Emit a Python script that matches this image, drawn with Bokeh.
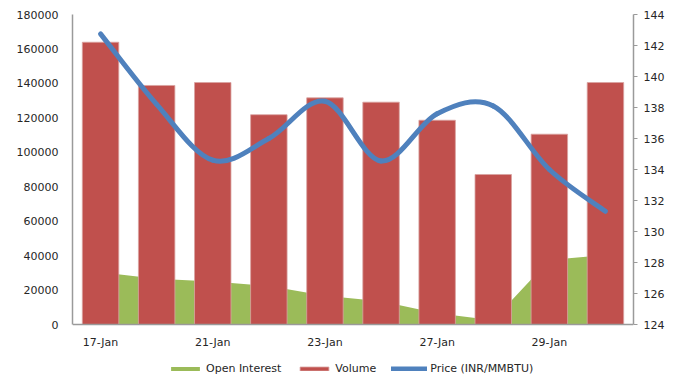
from bokeh.plotting import figure
from bokeh.models import (Range1d, LinearAxis, FixedTicker, Legend, LegendItem,
                          BasicTickFormatter, Span)
from bokeh.core.properties import value
from bokeh.embed import file_html
from bokeh.resources import INLINE

# Trading days, volume (lots), open interest (lots) and price (INR/MMBTU)
dates = ["17-Jan", "20-Jan", "21-Jan", "22-Jan", "23-Jan",
         "24-Jan", "27-Jan", "28-Jan", "29-Jan", "30-Jan"]
volume = [163900, 138800, 140500, 121800, 131600,
          129100, 118600, 87100, 110500, 140500]
open_interest = [30400, 26500, 25000, 22300, 16700,
                 13500, 6600, 2500, 37500, 40300]
price = [142.75, 138.2, 134.6, 136.0, 138.4,
         134.55, 137.6, 138.1, 134.0, 131.3]

left_ticks = list(range(0, 180001, 20000))
right_ticks = list(range(124, 145, 2))

FONT = "DejaVu Sans"
TEXT = "#262626"
AXIS = "#9a9a9a"
GREEN = "#9BBB59"
RED = "#C0504D"
BLUE = "#4F81BD"

# plot area geometry: value axes span 310 px, with a 54 px strip below
# the zero line that holds the date labels and the legend
AXIS_PX, STRIP_PX = 310, 54
vol_lo, vol_hi = left_ticks[0], left_ticks[-1]
pr_lo, pr_hi = right_ticks[0], right_ticks[-1]
vol_start = vol_lo - STRIP_PX * (vol_hi - vol_lo) / AXIS_PX
pr_start = pr_lo - STRIP_PX * (pr_hi - pr_lo) / AXIS_PX

pos = list(range(1, len(dates) + 1))

p = figure(frame_width=561, frame_height=AXIS_PX + STRIP_PX,
           output_backend="svg", toolbar_location=None, x_axis_location=None,
           x_range=Range1d(0.5, len(dates) + 0.5),
           y_range=Range1d(vol_start, vol_hi),
           min_border_left=72, min_border_right=44, min_border_top=14,
           min_border_bottom=0)
p.extra_y_ranges = {"price": Range1d(pr_start, pr_hi)}
p.outline_line_color = None
p.xgrid.visible = False
p.ygrid.visible = False
p.background_fill_color = "white"

# open interest area behind the columns
oi = p.varea(x=pos, y1=0, y2=open_interest, fill_color=GREEN)

# volume columns
vol = p.vbar(x=pos, top=volume, width=0.65, fill_color=RED,
             line_color="#d9a3a1", line_width=0.8)

# smoothed price curve (cubic Bezier segments through each day's price)
n = len(price)
x0s, y0s, x1s, y1s, cx0s, cy0s, cx1s, cy1s = ([] for _ in range(8))
for i in range(n - 1):
    xa, ya = pos[i], price[i]
    xb, yb = pos[i + 1], price[i + 1]
    xp, yp = (pos[i - 1], price[i - 1]) if i > 0 else (xa, ya)
    xn, yn = (pos[i + 2], price[i + 2]) if i + 2 < n else (xb, yb)
    x0s.append(xa); y0s.append(ya); x1s.append(xb); y1s.append(yb)
    cx0s.append(xa + (xb - xp) / 6); cy0s.append(ya + (yb - yp) / 6)
    cx1s.append(xb - (xn - xa) / 6); cy1s.append(yb - (yn - ya) / 6)
pr = p.bezier(x0=x0s, y0=y0s, x1=x1s, y1=y1s, cx0=cx0s, cy0=cy0s,
              cx1=cx1s, cy1=cy1s, line_color=BLUE, line_width=5,
              line_cap="round", y_range_name="price")

# category axis: base line at zero and every other date underneath
p.add_layout(Span(location=0, dimension="width", line_color=AXIS, line_width=1.5))
p.text(x=pos[::2], y=[0] * len(pos[::2]), text=dates[::2],
       text_font=value(FONT), text_font_size="11px", text_color=TEXT,
       text_align="center", text_baseline="top", y_offset=11)

# volume axis (left)
ya_ = p.yaxis[0]
ya_.bounds = (vol_lo, vol_hi)
ya_.ticker = FixedTicker(ticks=left_ticks)
ya_.formatter = BasicTickFormatter(use_scientific=False)
ya_.major_tick_line_color = None
ya_.major_tick_out = 0
ya_.minor_tick_line_color = None
ya_.minor_tick_out = 0
ya_.axis_line_color = AXIS
ya_.axis_line_width = 1.5
ya_.major_label_standoff = 14

# price axis (right)
ra = LinearAxis(y_range_name="price", ticker=FixedTicker(ticks=right_ticks),
                bounds=(pr_lo, pr_hi))
ra.minor_tick_line_color = None
ra.minor_tick_out = 0
ra.major_tick_in = 0
ra.major_tick_out = 4
ra.major_tick_line_color = AXIS
ra.axis_line_color = AXIS
ra.axis_line_width = 1.5
ra.major_label_standoff = 6
p.add_layout(ra, "right")

for ax in (ya_, ra):
    ax.major_label_text_font = FONT
    ax.major_label_text_font_size = "11px"
    ax.major_label_text_color = TEXT

# legend row in the strip under the dates
legend = Legend(items=[LegendItem(label="Open Interest", renderers=[oi]),
                       LegendItem(label="Volume", renderers=[vol]),
                       LegendItem(label="Price (INR/MMBTU)", renderers=[pr])],
                location=(95, 3), orientation="horizontal",
                padding=0, margin=0, spacing=15, label_standoff=3,
                glyph_width=36, glyph_height=5, label_height=13,
                border_line_color=None, background_fill_alpha=0,
                label_text_font=FONT, label_text_font_size="11px",
                label_text_color=TEXT)
p.add_layout(legend, "center")

open("out.html", "w").write(file_html(p, INLINE))
